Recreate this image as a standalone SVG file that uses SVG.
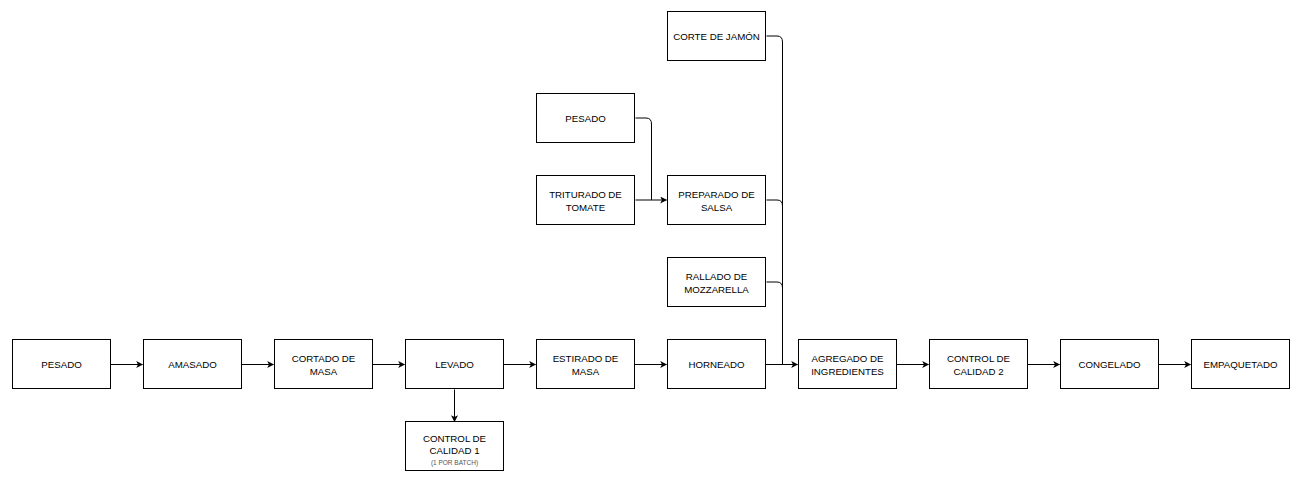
<svg xmlns="http://www.w3.org/2000/svg" width="1304" height="484" viewBox="0 0 1304 484">
<defs>
<marker id="arr" viewBox="0 0 10 10" refX="9" refY="5" markerWidth="7" markerHeight="7" markerUnits="userSpaceOnUse" orient="auto">
<path d="M0,0 L10,5 L0,10 L2.5,5 Z" fill="#000"/>
</marker>
<style>
rect{fill:#fff;stroke:#000;stroke-width:1}
text{font-family:"Liberation Sans",Arial,sans-serif;font-size:9.7px;fill:#000;text-anchor:middle}
.small{font-size:6.5px;fill:#555}
.c{fill:none;stroke:#000;stroke-width:1}
</style>
</defs>
<rect x="0" y="0" width="1304" height="484" style="fill:#fff;stroke:none"/>
<g id="connectors">
<path class="c" d="M110.5,364.5 H142.5" marker-end="url(#arr)"/>
<path class="c" d="M241.5,364.5 H273.5" marker-end="url(#arr)"/>
<path class="c" d="M372.5,364.5 H404.5" marker-end="url(#arr)"/>
<path class="c" d="M503.5,364.5 H535.5" marker-end="url(#arr)"/>
<path class="c" d="M634.5,364.5 H666.5" marker-end="url(#arr)"/>
<path class="c" d="M765.5,364.5 H797.5" marker-end="url(#arr)"/>
<path class="c" d="M896.5,364.5 H928.5" marker-end="url(#arr)"/>
<path class="c" d="M1027.5,364.5 H1059.5" marker-end="url(#arr)"/>
<path class="c" d="M1158.5,364.5 H1190.5" marker-end="url(#arr)"/>
<path class="c" d="M454.5,389.5 V421.5" marker-end="url(#arr)"/>
<path class="c" d="M635.5,200 H666.5" marker-end="url(#arr)"/>
<path class="c" d="M635.5,118 H646 Q651.5,118 651.5,124 V200"/>
<path class="c" d="M766.5,36 H777 Q782.5,36 782.5,42 V364.5"/>
<path class="c" d="M766.5,200 H777 Q782.5,200 782.5,206"/>
<path class="c" d="M766.5,282 H777 Q782.5,282 782.5,288"/>
</g>
<g id="pesado"><rect x="12.5" y="339.5" width="98" height="49"/><text x="61.5" y="368">PESADO</text></g>
<g id="amasado"><rect x="143.5" y="339.5" width="98" height="49"/><text x="192.5" y="368">AMASADO</text></g>
<g id="cortado"><rect x="274.5" y="339.5" width="98" height="49"/><text x="323.5" y="362">CORTADO DE</text><text x="323.5" y="374.5">MASA</text></g>
<g id="levado"><rect x="405.5" y="339.5" width="98" height="49"/><text x="454.5" y="368">LEVADO</text></g>
<g id="estirado"><rect x="536.5" y="339.5" width="98" height="49"/><text x="585.5" y="362">ESTIRADO DE</text><text x="585.5" y="374.5">MASA</text></g>
<g id="horneado"><rect x="667.5" y="339.5" width="98" height="49"/><text x="716.5" y="368">HORNEADO</text></g>
<g id="agregado"><rect x="798.5" y="339.5" width="98" height="49"/><text x="847.5" y="362">AGREGADO DE</text><text x="847.5" y="374.5">INGREDIENTES</text></g>
<g id="control2"><rect x="929.5" y="339.5" width="98" height="49"/><text x="978.5" y="362">CONTROL DE</text><text x="978.5" y="374.5">CALIDAD 2</text></g>
<g id="congelado"><rect x="1060.5" y="339.5" width="98" height="49"/><text x="1109.5" y="368">CONGELADO</text></g>
<g id="empaquetado"><rect x="1191.5" y="339.5" width="98" height="49"/><text x="1240.5" y="368">EMPAQUETADO</text></g>
<g id="control1"><rect x="405.5" y="421.5" width="98" height="49"/><text x="454.5" y="441.5">CONTROL DE</text><text x="454.5" y="454">CALIDAD 1</text><text class="small" x="454.5" y="465">(1 POR BATCH)</text></g>
<g id="pesado2"><rect x="536.5" y="93.5" width="98" height="49"/><text x="585.5" y="122">PESADO</text></g>
<g id="triturado"><rect x="536.5" y="175.5" width="98" height="49"/><text x="585.5" y="198">TRITURADO DE</text><text x="585.5" y="210.5">TOMATE</text></g>
<g id="preparado"><rect x="667.5" y="175.5" width="98" height="49"/><text x="716.5" y="198">PREPARADO DE</text><text x="716.5" y="210.5">SALSA</text></g>
<g id="rallado"><rect x="667.5" y="257.5" width="98" height="49"/><text x="716.5" y="280">RALLADO DE</text><text x="716.5" y="292.5">MOZZARELLA</text></g>
<g id="corte"><rect x="667.5" y="11.5" width="98" height="49"/><text x="716.5" y="40">CORTE DE JAMÓN</text></g>
</svg>
